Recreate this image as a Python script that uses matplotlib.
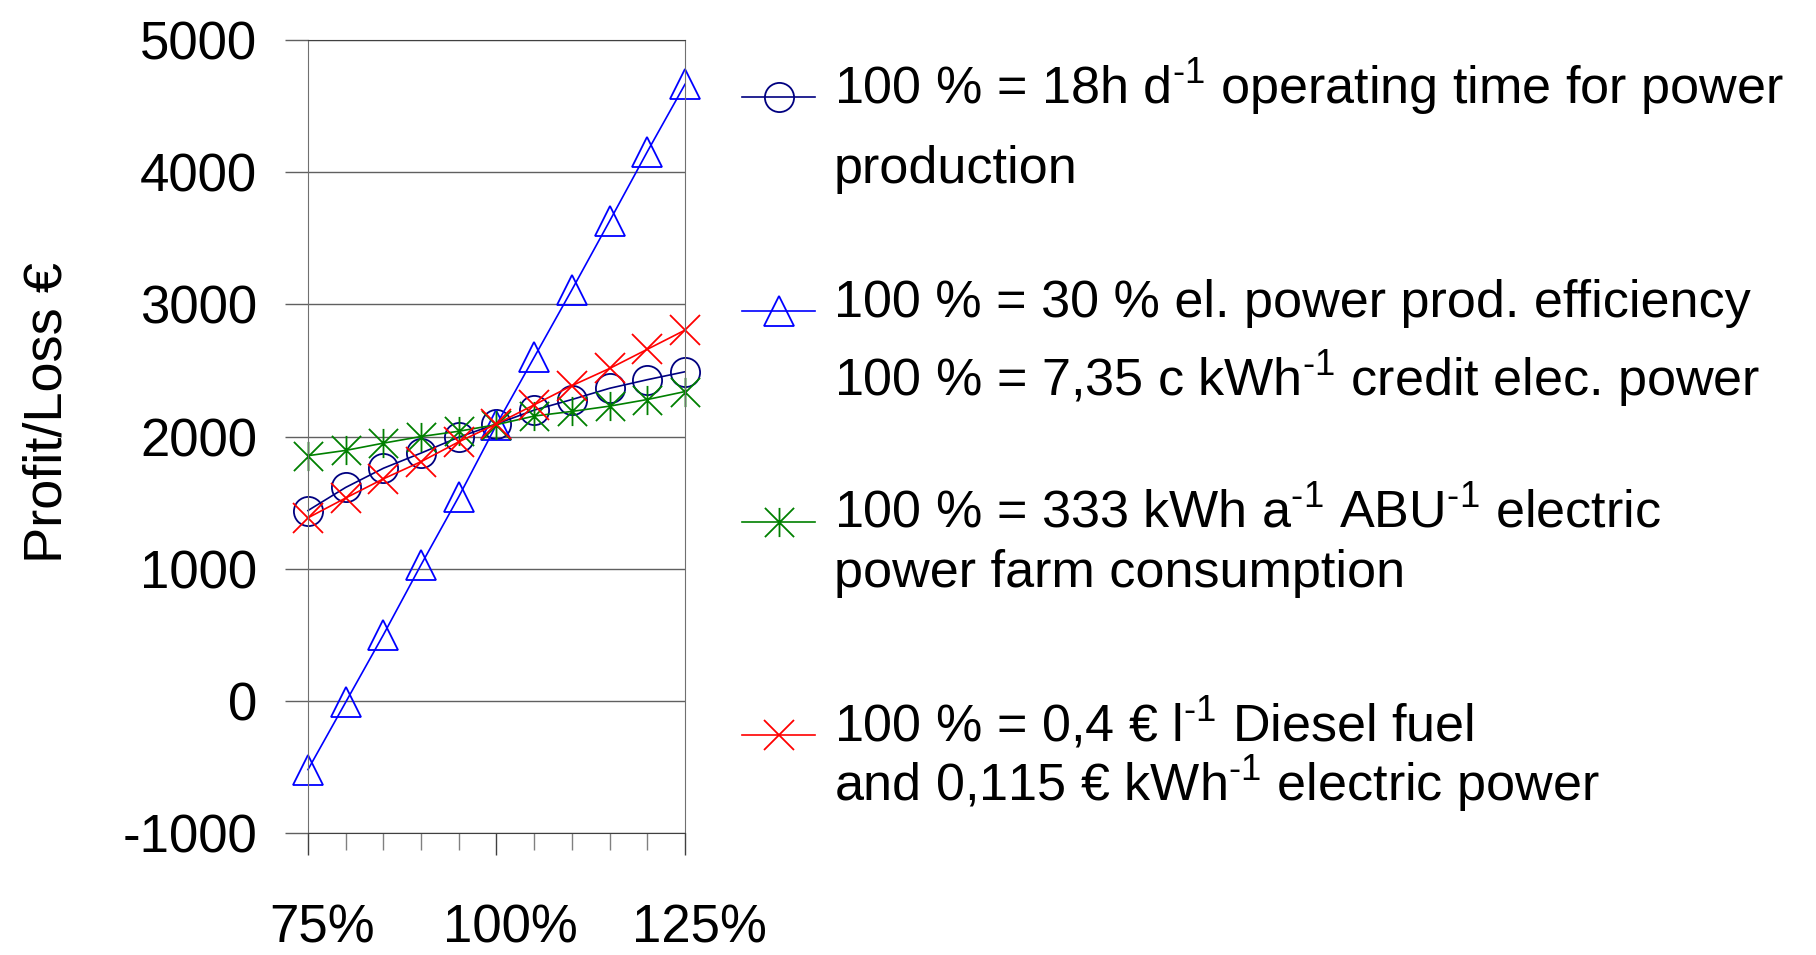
import matplotlib
matplotlib.use("Agg")
import matplotlib.pyplot as plt
from matplotlib.lines import Line2D
from matplotlib.path import Path
from matplotlib.transforms import ScaledTranslation

plt.rcParams['font.family'] = ['Liberation Sans', 'DejaVu Sans']
plt.rcParams['mathtext.fontset'] = 'custom'
plt.rcParams['mathtext.rm'] = 'Liberation Sans'

# data
pct = [75, 80, 85, 90, 95, 100, 105, 110, 115, 120, 125]
operating_time = [1440, 1615, 1760, 1875, 1995, 2095, 2200, 2280, 2365, 2430, 2490]
efficiency = [-520, -10, 500, 1030, 1545, 2090, 2600, 3110, 3630, 4155, 4665]
farm_consumption = [1855, 1895, 1950, 2000, 2040, 2090, 2155, 2190, 2230, 2280, 2340]
diesel_price = [1385, 1535, 1680, 1810, 1960, 2095, 2240, 2385, 2515, 2660, 2805]

major_ticks = [75, 100, 125]
major_labels = ['75%', '100%', '125%']
y_ticks = [-1000, 0, 1000, 2000, 3000, 4000, 5000]

sup = r'$^{\text{-1}}$'
legend_lines = [
    ['100 % = 18h d' + sup + ' operating time for power', 'production'],
    ['100 % = 30 % el. power prod. efficiency', '100 % = 7,35 c kWh' + sup + ' credit elec. power'],
    ['100 % = 333 kWh a' + sup + ' ABU' + sup + ' electric', 'power farm consumption'],
    ['100 % = 0,4 \u20ac l' + sup + ' Diesel fuel', 'and 0,115 \u20ac kWh' + sup + ' electric power'],
]

# asterisk: vertical bar plus an x
star = Path([(0, -0.5), (0, 0.5), (-0.5, -0.5), (0.5, 0.5), (-0.5, 0.5), (0.5, -0.5)],
            [Path.MOVETO, Path.LINETO, Path.MOVETO, Path.LINETO, Path.MOVETO, Path.LINETO])

styles = [
    dict(color='#000080', marker='o', mfc='none'),
    dict(color='#0000ff', marker='^', mfc='none'),
    dict(color='#008000', marker=star, mfc='none'),
    dict(color='#ff0000', marker='x', mfc='none'),
]
series = [operating_time, efficiency, farm_consumption, diesel_price]

fig = plt.figure(figsize=(18.16, 9.55), dpi=100)
ax = fig.add_axes([0.1696, 0.1277, 0.2076, 0.8304])

for vals, st in zip(series, styles):
    ax.plot(pct, vals, lw=1.2, ms=21, mew=1.3, clip_on=False, **st)

ax.set_xlim(75, 125)
ax.set_ylim(-1000, 5000)
ax.set_yticks(y_ticks)
ax.set_yticklabels([str(v) for v in y_ticks], fontsize=38)
ax.set_xticks(major_ticks)
ax.set_xticklabels(major_labels, fontsize=38)
ax.set_xticks(pct, minor=True)
ax.yaxis.grid(True, color='#606060', lw=1)
ax.tick_params(axis='y', length=16.5, width=1, color='#606060', pad=20)
ax.tick_params(axis='x', which='major', length=16, width=1, color='#404040', pad=35)
ax.tick_params(axis='x', which='minor', length=12.5, width=1, color='#808080')
# labels sit a little to the right of their ticks in the original
shift = ScaledTranslation(0.14, 0, fig.dpi_scale_trans)
for lab in ax.get_xticklabels():
    lab.set_transform(lab.get_transform() + shift)
for s in ['left', 'right']:
    ax.spines[s].set_color('#707070')
for s in ['top', 'bottom']:
    ax.spines[s].set_color('#404040')
ax.set_ylabel('Profit/Loss \u20ac', fontsize=39)
ax.yaxis.set_label_coords(-0.625, 0.53)

# legend drawn by hand, positions in pixels from the top
line_y = [97, 311, 522, 735]
base_y = [[104, 183], [317, 396], [528, 587], [742, 801]]
W, H = 1816.0, 955.0
for st, ly, by, texts in zip(styles, line_y, base_y, legend_lines):
    fig.add_artist(Line2D([742 / W, 815 / W], [1 - ly / H, 1 - ly / H], lw=1.2,
                          color=st['color']))
    fig.add_artist(Line2D([778.5 / W], [1 - ly / H], lw=0, ms=21, mew=1.3, **st))
    for t, b in zip(texts, by):
        fig.text(834 / W, 1 - b / H, t, fontsize=37.5, va='baseline', ha='left')

fig.savefig('out.png', dpi=100)
